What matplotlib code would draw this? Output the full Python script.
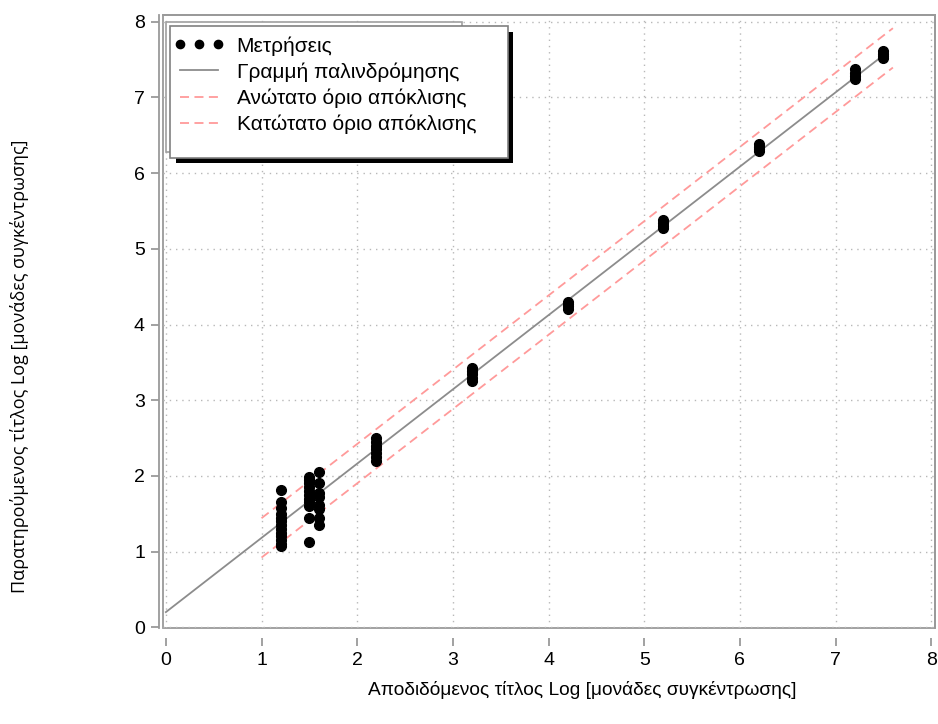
import matplotlib.pyplot as plt
import numpy as np
from matplotlib.patches import Rectangle

x_levels = [1.2, 1.5, 1.6, 2.2, 3.2, 4.2, 5.2, 6.2, 7.2, 7.5]
y_groups = [
    [1.82, 1.65, 1.58, 1.50, 1.45, 1.40, 1.35, 1.30, 1.25, 1.20, 1.15, 1.10, 1.07],
    [1.98, 1.95, 1.90, 1.85, 1.80, 1.75, 1.70, 1.65, 1.60, 1.45, 1.12],
    [2.05, 1.90, 1.78, 1.72, 1.62, 1.56, 1.45, 1.35],
    [2.50, 2.45, 2.40, 2.35, 2.30, 2.25, 2.20],
    [3.42, 3.38, 3.34, 3.30, 3.26],
    [4.30, 4.27, 4.24, 4.21],
    [5.38, 5.34, 5.30, 5.27],
    [6.38, 6.35, 6.32, 6.29],
    [7.37, 7.33, 7.29, 7.25],
    [7.62, 7.58, 7.55, 7.52],
]

# regression line and deviation limits
reg_x = [0.0, 7.5]
intercept = 0.20
slope = 0.981
band_x = [1.0, 7.6]
band = 0.26

labels = ['Μετρήσεις', 'Γραμμή παλινδρόμησης',
          'Ανώτατο όριο απόκλισης', 'Κατώτατο όριο απόκλισης']
xlabel = 'Αποδιδόμενος τίτλος Log [μονάδες συγκέντρωσης]'
ylabel = 'Παρατηρούμενος τίτλος Log [μονάδες συγκέντρωσης]'

plt.rcParams['font.family'] = ['Liberation Sans', 'DejaVu Sans']

W, H = 938, 724
fig = plt.figure(figsize=(W / 100, H / 100), dpi=100)
ax = fig.add_axes([163 / W, 1 - 628 / H, (935 - 163) / W, (628 - 15) / H])

xs = np.concatenate([[x] * len(g) for x, g in zip(x_levels, y_groups)])
ys = np.concatenate(y_groups)

rx = np.array(reg_x)
bx = np.array(band_x)
ax.plot(rx, intercept + slope * rx, color='#8c8c8c', lw=1.3, zorder=2)
ax.plot(bx, intercept + slope * bx + band, color='#ff9a9a', lw=1.3,
        dashes=(5, 3), zorder=2)
ax.plot(bx, intercept + slope * bx - band, color='#ff9a9a', lw=1.3,
        dashes=(5, 3), zorder=2)
ax.plot(xs, ys, 'o', color='black', ms=7, zorder=3)

ax.set_xlim(-0.03, 8.04)
ax.set_ylim(-0.01, 8.09)
ax.set_xticks(range(0, 9))
ax.set_yticks(range(0, 9))
ax.grid(True, color='#b8b8b8', linestyle=(0, (1, 3.5)), lw=1)

for s in ax.spines.values():
    s.set_edgecolor('#9a9a9a')
    s.set_linewidth(1.3)
ax.spines['bottom'].set_position(('outward', 7))
ax.spines['bottom'].set_color('none')
ax.spines['left'].set_position(('outward', 3))
ax.add_patch(Rectangle((0, 0), 1, 1, transform=ax.transAxes, fill=False,
                       edgecolor='#9a9a9a', lw=1.3, clip_on=False, zorder=1))
ax.tick_params(direction='out', length=6, width=1.3, color='#9a9a9a',
               labelsize=14, pad=4)

fig.text(582 / W, 1 - 690 / H, xlabel, ha='center', va='center', fontsize=13.8)
fig.text(20 / W, 1 - 366 / H, ylabel, ha='center', va='center', fontsize=13,
         rotation=90, family=['Open Sans', 'DejaVu Sans'])

# legend boxes (ghost box, shadow, frame)
def px_rect(x0, y0, x1, y1, **kw):
    return Rectangle((x0 / W, 1 - y1 / H), (x1 - x0) / W, (y1 - y0) / H,
                     transform=fig.transFigure, **kw)

fig.patches.extend([
    px_rect(166, 22, 462, 152, facecolor='white', edgecolor='#a0a0a0', lw=1.2, zorder=2),
    px_rect(176, 32, 513, 163, facecolor='black', edgecolor='black', lw=0, zorder=3),
    px_rect(170, 26, 508, 158, facecolor='white', edgecolor='#808080', lw=1.2, zorder=4),
])

handles = ax.get_lines()
leg = fig.legend([handles[3], handles[0], handles[1], handles[2]], labels,
                 loc='upper left', bbox_to_anchor=(172 / W, 1 - 34 / H),
                 frameon=False, fontsize=15, numpoints=3, handlelength=2.4,
                 handletextpad=0.6, labelspacing=0.32, borderpad=0.1,
                 borderaxespad=0, markerscale=0.85)
leg.set_zorder(5)

plt.savefig('out.png', dpi=100)
